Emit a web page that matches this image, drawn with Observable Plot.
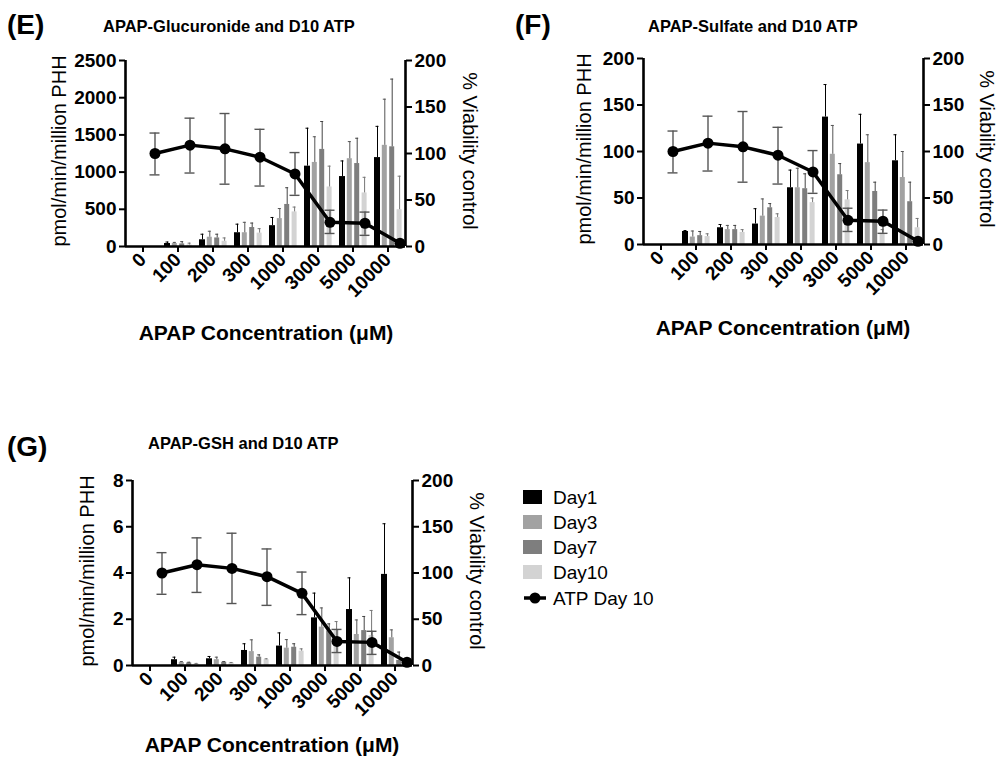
<!DOCTYPE html>
<html><head><meta charset="utf-8">
<script src="https://cdn.jsdelivr.net/npm/d3@7"></script>
<script src="https://cdn.jsdelivr.net/npm/@observablehq/plot@0.6"></script>
<style>
body{margin:0;background:#fff;}
#root{position:relative;width:1000px;height:764px;overflow:hidden;background:#fff;}
#root svg.panel{position:absolute;}
#overlay{position:absolute;left:0;top:0;}
</style></head>
<body><div id="root"></div>
<script>
// ---------- data ----------
const concentrations = ["0","100","200","300","1000","3000","5000","10000"];
const days = ["Day1","Day3","Day7","Day10"];
const dayColors = ["#000000","#a2a2a2","#7e7e7e","#d3d3d3"];
const errColors = ["#000000","#555555","#444444","#777777"];

// ATP Day 10 (% viability control), same in all panels
const atpMean  = [100, 109, 105, 96, 78, 26, 25, 3.5];
const atpUpper = [122, 138, 143, 126, 101, 39, 37, null];
const atpLower = [77, 79, 67, 65, 55, 14, 12, null];

// (E) APAP-Glucuronide
const gluDay1   = [null, 40, 90, 185, 280, 1080, 940, 1195];
const gluDay1Up = [null, 60, 165, 300, 390, 1590, 1150, 1615];
const gluDay3   = [null, 40, 125, 185, 375, 1130, 1180, 1360];
const gluDay3Up = [null, 55, 205, 325, 510, 1475, 1410, 1980];
const gluDay7   = [null, 35, 115, 255, 565, 1305, 1115, 1340];
const gluDay7Up = [null, 65, 165, 315, 790, 1680, 1455, 2250];
const gluDay10   = [null, 20, 70, 180, 465, 800, 720, 495];
const gluDay10Up = [null, 45, 115, 240, 530, 1080, 930, 945];

// (F) APAP-Sulfate
const sulDay1   = [null, 14, 18, 22, 61, 137, 108, 90];
const sulDay1Up = [null, 15, 21.5, 38.5, 80, 172, 140, 118];
const sulDay3   = [null, 8, 16, 30.5, 61, 97, 88, 72];
const sulDay3Up = [null, 14.5, 20.5, 49, 82, 128, 118, 100];
const sulDay7   = [null, 9.5, 16, 39.5, 60, 75, 57, 46];
const sulDay7Up = [null, 14, 20.5, 44, 76, 87, 67, 67];
const sulDay10   = [null, 8.5, 13, 29, 45, 48, 12, 18];
const sulDay10Up = [null, 11.5, 16, 33, 50, 58, 16, 28];

// (G) APAP-GSH
const gshDay1   = [null, 0.25, 0.29, 0.65, 0.84, 2.06, 2.42, 3.94];
const gshDay1Up = [null, 0.36, 0.39, 0.94, 1.41, 3.13, 3.79, 6.13];
const gshDay3   = [null, 0.13, 0.25, 0.6, 0.75, 1.66, 1.34, 1.2];
const gshDay3Up = [null, 0.17, 0.36, 1.11, 1.12, 2.49, 1.97, 1.54];
const gshDay7   = [null, 0.11, 0.14, 0.36, 0.79, 1.5, 1.51, 0.22];
const gshDay7Up = [null, 0.14, 0.17, 0.46, 0.94, 1.8, 2.12, 0.58];
const gshDay10   = [null, 0.07, 0.11, 0.25, 0.62, 1.55, 1.3, 0.07];
const gshDay10Up = [null, 0.09, 0.13, 0.29, 0.72, 1.9, 2.38, 0.1];

const gluTicks = [0, 500, 1000, 1500, 2000, 2500];
const sulTicks = [0, 50, 100, 150, 200];
const gshTicks = [0, 2, 4, 6, 8];
const viabilityTicks = [0, 50, 100, 150, 200];

const titles = ["APAP-Glucuronide and D10 ATP", "APAP-Sulfate and D10 ATP", "APAP-GSH and D10 ATP"];
const panelLetters = ["(E)", "(F)", "(G)"];
const xTitle = "APAP Concentration (μM)";
const yLeftTitle = "pmol/min/million PHH";
const yRightTitle = "% Viability control";
const legendLabels = ["Day1","Day3","Day7","Day10","ATP Day 10"];

// ---------- drawing ----------
const FONT = "'Liberation Sans', Arial, Helvetica, sans-serif";
const barOffsets = [-10.5, -3.2, 4.2, 11.6];
const barInsets = [14.5, 15, 15, 15];
const lineDx = 12;

function panel(cfg) {
  const {series, ups, ymax, yticks, svgLeft, svgTop, width, height, mL, mR, mT, mB} = cfg;
  const k = ymax / 200;
  const n = concentrations.length;
  const marks = [];
  series.forEach((vals, j) => {
    const rows = concentrations.map((c, i) => ({i, v: vals[i], up: ups[j][i]})).filter(d => d.v != null);
    marks.push(Plot.rectY(rows, {x1: d => d.i - 0.5, x2: d => d.i + 0.5, y1: 0, y2: "v",
      insetLeft: barInsets[j], insetRight: barInsets[j], dx: barOffsets[j], fill: dayColors[j]}));
    marks.push(Plot.ruleX(rows, {x: "i", y1: "v", y2: "up", dx: barOffsets[j], stroke: errColors[j], strokeWidth: 1}));
    marks.push(Plot.ruleY(rows, {y: "up", x1: d => d.i - 0.5, x2: d => d.i + 0.5, insetLeft: 16, insetRight: 16,
      dx: barOffsets[j], stroke: errColors[j], strokeWidth: 1}));
  });
  const atp = concentrations.map((c, i) => ({i, m: atpMean[i] * k,
    lo: atpLower[i] == null ? null : atpLower[i] * k, hi: atpUpper[i] == null ? null : atpUpper[i] * k}));
  const atpErr = atp.filter(d => d.hi != null);
  marks.push(Plot.ruleX(atpErr, {x: "i", y1: "lo", y2: "hi", dx: lineDx, stroke: "#555", strokeWidth: 1.4}));
  marks.push(Plot.ruleY(atpErr, {y: "hi", x1: d => d.i - 0.5, x2: d => d.i + 0.5, insetLeft: 12.5, insetRight: 12.5, dx: lineDx, stroke: "#555", strokeWidth: 1.4}));
  marks.push(Plot.ruleY(atpErr, {y: "lo", x1: d => d.i - 0.5, x2: d => d.i + 0.5, insetLeft: 12.5, insetRight: 12.5, dx: lineDx, stroke: "#555", strokeWidth: 1.4}));
  marks.push(Plot.line(atp, {x: "i", y: "m", dx: lineDx, stroke: "#000", strokeWidth: 3.5}));
  marks.push(Plot.dot(atp, {x: "i", y: "m", dx: lineDx, r: 5.5, fill: "#000", stroke: "none"}));
  // axes
  marks.push(Plot.ruleX([-0.5, n - 0.5], {y1: 0, y2: ymax, strokeWidth: 2.6, stroke: "#000"}));
  marks.push(Plot.ruleY([0], {strokeWidth: 2.6, stroke: "#000"}));
  marks.push(Plot.axisX({ticks: d3.range(n), tickFormat: i => concentrations[i], tickRotate: -45,
    tickSize: 6, tickPadding: 4, strokeWidth: 2, label: null}));
  marks.push(Plot.axisY({ticks: yticks, tickFormat: d => String(d), tickSize: 6, tickPadding: 3, strokeWidth: 2, label: null}));
  marks.push(Plot.axisY({anchor: "right", ticks: viabilityTicks.map(v => v * k), tickFormat: d => String(Math.round(d / k)),
    tickSize: 6, tickPadding: 3, strokeWidth: 2, label: null}));

  const svg = Plot.plot({
    width, height, marginLeft: mL, marginRight: mR, marginTop: mT, marginBottom: mB,
    x: {type: "linear", domain: [-0.5, n - 0.5], axis: null},
    y: {type: "linear", domain: [0, ymax], axis: null},
    style: {fontFamily: FONT, fontSize: "19px", fontWeight: "bold", color: "#000", background: "transparent", overflow: "visible"},
    marks
  });
  svg.classList.add("panel");
  svg.style.left = svgLeft + "px";
  svg.style.top = svgTop + "px";
  document.getElementById("root").appendChild(svg);
}

// E
panel({series: [gluDay1, gluDay3, gluDay7, gluDay10], ups: [gluDay1Up, gluDay3Up, gluDay7Up, gluDay10Up],
  ymax: 2500, yticks: gluTicks, svgLeft: 0, svgTop: 0, width: 500, height: 360, mL: 125, mR: 95, mT: 60, mB: 114});
// F
panel({series: [sulDay1, sulDay3, sulDay7, sulDay10], ups: [sulDay1Up, sulDay3Up, sulDay7Up, sulDay10Up],
  ymax: 200, yticks: sulTicks, svgLeft: 500, svgTop: 0, width: 500, height: 360, mL: 143, mR: 77, mT: 58, mB: 116});
// G
panel({series: [gshDay1, gshDay3, gshDay7, gshDay10], ups: [gshDay1Up, gshDay3Up, gshDay7Up, gshDay10Up],
  ymax: 8, yticks: gshTicks, svgLeft: 0, svgTop: 400, width: 500, height: 364, mL: 132, mR: 88, mT: 80, mB: 99});

// ---------- annotations (titles, axis titles, legend) ----------
const ov = d3.select("#root").append("svg").attr("id", "overlay").attr("width", 1000).attr("height", 764)
  .style("font-family", FONT);
function txt(s, x, y, o = {}) {
  const t = ov.append("text").attr("x", x).attr("y", y).text(s)
    .attr("font-size", o.size || 20).attr("font-weight", o.bold ? "bold" : "normal")
    .attr("text-anchor", o.anchor || "start").attr("fill", "#000");
  if (o.rotate) t.attr("transform", `rotate(${o.rotate},${x},${y})`).attr("dominant-baseline", "central");
  return t;
}
// panel letters & titles
txt(panelLetters[0], 7, 34, {size: 28, bold: true});
txt(titles[0], 103, 32, {size: 16.5, bold: true});
txt(panelLetters[1], 515, 34, {size: 28, bold: true});
txt(titles[1], 648, 32, {size: 16.5, bold: true});
txt(panelLetters[2], 7, 456, {size: 28, bold: true});
txt(titles[2], 148, 449, {size: 16.5, bold: true});
// x titles
txt(xTitle, 266, 340, {size: 21, bold: true, anchor: "middle"});
txt(xTitle, 783, 335, {size: 21, bold: true, anchor: "middle"});
txt(xTitle, 272, 752, {size: 21, bold: true, anchor: "middle"});
// y titles
txt(yLeftTitle, 59, 151, {anchor: "middle", rotate: -90});
txt(yRightTitle, 470, 151, {anchor: "middle", rotate: 90});
txt(yLeftTitle, 584, 149, {anchor: "middle", rotate: -90});
txt(yRightTitle, 987, 149, {anchor: "middle", rotate: 90});
txt(yLeftTitle, 87, 571, {anchor: "middle", rotate: -90});
txt(yRightTitle, 477, 571, {anchor: "middle", rotate: 90});
// legend
const legY = [497, 522, 547, 572, 598];
days.forEach((d, j) => {
  ov.append("rect").attr("x", 523).attr("y", legY[j] - 7).attr("width", 19).attr("height", 14).attr("fill", dayColors[j]);
  txt(legendLabels[j], 553, legY[j], {size: 19}).attr("dominant-baseline", "central");
});
ov.append("line").attr("x1", 524).attr("x2", 546).attr("y1", legY[4]).attr("y2", legY[4]).attr("stroke", "#000").attr("stroke-width", 3.5);
ov.append("circle").attr("cx", 535).attr("cy", legY[4]).attr("r", 5.5).attr("fill", "#000");
txt(legendLabels[4], 553, legY[4], {size: 19}).attr("dominant-baseline", "central");
</script>
</body></html>
